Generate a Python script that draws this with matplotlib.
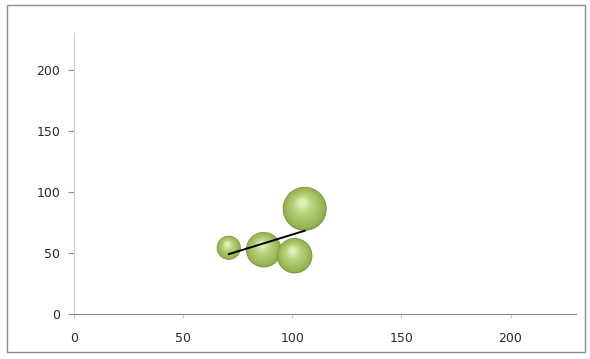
import numpy as np
from matplotlib import pyplot as plt
from matplotlib import transforms
from matplotlib.colors import LinearSegmentedColormap
from matplotlib.patches import Rectangle

plt.rcParams['font.family'] = ['DejaVu Sans']

# bubble data
x_vals = [70.9, 86.9, 101.1, 105.7]
y_vals = [54.2, 52.6, 47.7, 86.1]
sizes = [30, 65, 65, 100]

x_ticks = [0, 50, 100, 150, 200]
y_ticks = [0, 50, 100, 150, 200]

fig = plt.figure(figsize=(5.9, 3.59), dpi=100)
fig.patches.append(Rectangle((7 / 590, 1 - 352 / 359), 578 / 590, 347 / 359,
                             transform=fig.transFigure, fill=False,
                             edgecolor="#8c8c8c", linewidth=1.0))

ax = fig.add_axes([74 / 590, 45 / 359, 502 / 590, 281 / 359])
ax.set_xlim(0, 230)
ax.set_ylim(0, 230)
ax.set_xticks(x_ticks)
ax.set_yticks(y_ticks)
ax.tick_params(axis='both', labelsize=9, colors="#2a2a2a")
ax.tick_params(axis='y', length=4, width=0.8, color="#8c8c8c", pad=6)
ax.tick_params(axis='x', length=3, width=0.8, color="#c8c8c8", pad=10)
for s in ['top', 'right']:
    ax.spines[s].set_visible(False)
ax.spines['left'].set_color("#d0d0d0")
ax.spines['bottom'].set_color("#8c8c8c")

# spheres: stacked circles shifted toward the highlight
cmap = LinearSegmentedColormap.from_list(
    "sph", [(0, "#7d9840"), (0.08, "#94b352"), (0.3, "#a2c060"), (0.65, "#b8d27c"), (1, "#dfeeb4")])
r_max_pt = 22 * 72 / 100
n = 30
for x, y, s in zip(x_vals, y_vals, sizes):
    r = r_max_pt * np.sqrt(s / max(sizes))
    for i in range(n):
        t = i / (n - 1)
        rr = r * (1 - 0.85 * t)
        tr = transforms.offset_copy(ax.transData, fig=fig, x=-0.12 * r * t, y=0.28 * r * t, units='points')
        ax.scatter([x], [y], s=(2 * rr) ** 2, color=cmap(t), transform=tr,
                   edgecolors='none', zorder=3, clip_on=False)

# linear trendline
p = np.polyfit(x_vals, y_vals, 1)
xt = np.array([min(x_vals), max(x_vals)])
ax.plot(xt, np.polyval(p, xt), '-', color="black", linewidth=1.4, zorder=5)

plt.savefig("out.png", dpi=100)
